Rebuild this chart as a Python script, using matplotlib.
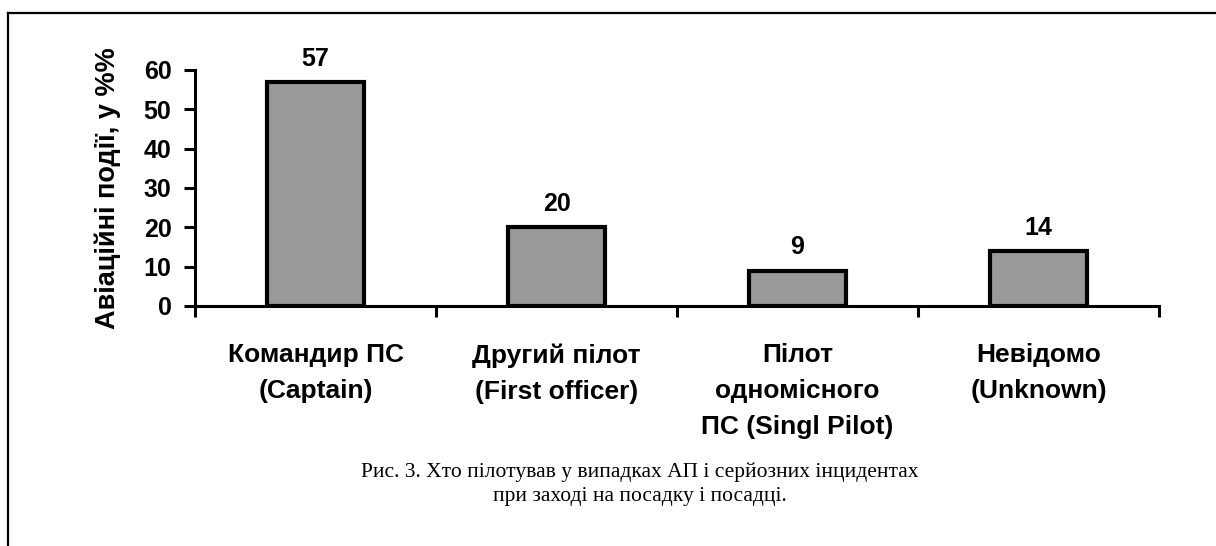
import matplotlib.pyplot as plt
from matplotlib.lines import Line2D
import numpy as np

# data
categories = ['Командир ПС\n(Captain)', 'Другий пілот\n(First officer)',
              'Пілот\nодномісного\nПС (Singl Pilot)', 'Невідомо\n(Unknown)']
shares = [57, 20, 9, 14]
y_ticks = [0, 10, 20, 30, 40, 50, 60]
y_label = 'Авіаційні події, у %%'
caption = ('Рис. 3. Хто пілотував у випадках АП і серйозних інцидентах\n'
           'при заході на посадку і посадці.')

plt.rcParams['font.family'] = ['Liberation Sans', 'DejaVu Sans']

fig = plt.figure(figsize=(12.16, 5.46), dpi=100)
ax = fig.add_axes([0.1604, 0.4396, 0.7927, 0.4322])

x = np.arange(len(categories))
bars = ax.bar(x, shares, width=0.40, color='#999999', edgecolor='black',
              linewidth=3.0, zorder=3)

for xi, v in zip(x, shares):
    ax.annotate(str(v), (xi, v), xytext=(0, 8), textcoords='offset points',
                ha='center', va='bottom', fontsize=18, fontweight='bold')

ax.set_xlim(-0.5, len(categories) - 0.5)
ax.set_ylim(0, 60)
ax.set_yticks(y_ticks)
ax.set_yticklabels([str(t) for t in y_ticks], fontsize=18, fontweight='bold')

# labels under categories, ticks on category boundaries
ax.set_xticks(x)
ax.set_xticklabels(categories, fontsize=19, fontweight='bold', linespacing=1.62)
ax.tick_params(axis='x', which='major', length=0, pad=27)
ax.set_xticks(np.arange(len(categories) + 1) - 0.5, minor=True)
ax.tick_params(axis='x', which='minor', length=8, width=2.2, direction='out')
ax.tick_params(axis='y', length=8, width=2.2, direction='out', pad=9)

for s in ['top', 'right']:
    ax.spines[s].set_visible(False)
for s in ['left', 'bottom']:
    ax.spines[s].set_linewidth(2.2)

ax.set_ylabel(y_label, fontsize=19.5, fontweight='bold', labelpad=16)

fig.text(0.526, 0.113, caption, ha='center', va='center', fontsize=15.5,
         family=['Liberation Serif', 'DejaVu Serif'], linespacing=1.35)

# outer frame (top and left edges)
fx = 8 / 1216
fy = 1 - 13 / 546
fig.add_artist(Line2D([fx, 1], [fy, fy], color='black', lw=1.6,
                      transform=fig.transFigure))
fig.add_artist(Line2D([fx, fx], [0, fy], color='black', lw=1.6,
                      transform=fig.transFigure))

fig.savefig('out.png', dpi=100)
